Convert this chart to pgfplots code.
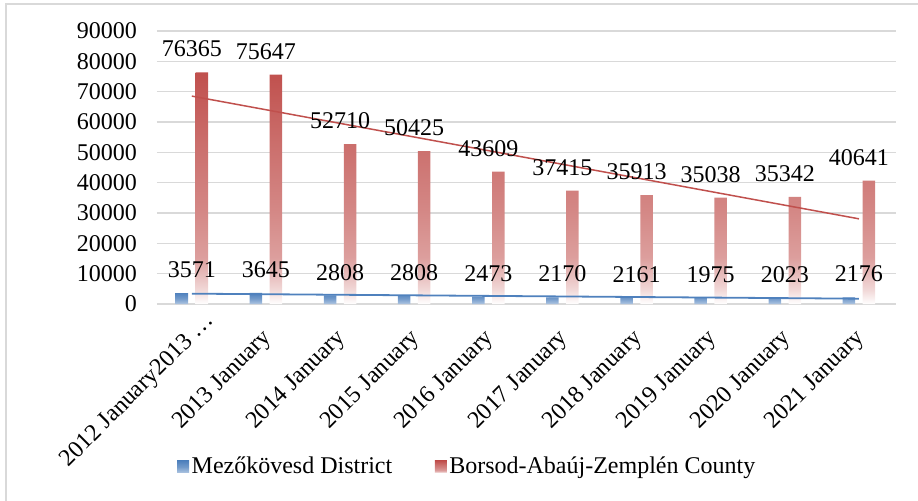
\documentclass[border=0pt]{standalone}
\usepackage{fontspec}
\setmainfont{Liberation Serif}
\usepackage{pgfplots}
\pgfplotsset{compat=1.18}
\definecolor{bred}{HTML}{C0504D}
\definecolor{bblue}{HTML}{4F81BD}
\definecolor{gridgray}{HTML}{D9D9D9}
\newcommand{\cf}{\fontsize{24bp}{28bp}\selectfont}
% bar fills: solid at the top, fading to white at the base
\pgfdeclareverticalshading{redbar}{100bp}{color(0bp)=(white); color(25bp)=(white);
  color(28bp)=(bred!22!white); color(35bp)=(bred!55!white); color(45bp)=(bred!68!white);
  color(60bp)=(bred!83!white); color(75bp)=(bred); color(100bp)=(bred)}
\pgfdeclareverticalshading{bluebar}{100bp}{color(0bp)=(bblue!45!white); color(25bp)=(bblue!45!white);
  color(50bp)=(bblue!80!white); color(75bp)=(bblue); color(100bp)=(bblue)}

\begin{document}
\cf
\begin{tikzpicture}
\begin{axis}[
    scale only axis,
    width=739bp, height=273bp,
    xmin=-0.47, xmax=9.5,
    ymin=0, ymax=90000,
    ytick={0,10000,...,90000},
    scaled y ticks=false,
    xtick={0,...,9},
    xticklabels={2012 January2013 …\kern-24bp, 2013 January, 2014 January,
        2015 January, 2016 January, 2017 January, 2018 January, 2019 January,
        2020 January, 2021 January},
    axis line style={draw=none},
    major tick length=0pt,
    ymajorgrids,
    grid style={gridgray, line width=1.5bp},
    tick label style={font=\cf},
    yticklabel style={xshift=-12bp},
    xticklabel style={xshift=8bp, yshift=-25bp, rotate=45, anchor=east},
    /pgf/number format/1000 sep={},
    /pgf/number format/assume math mode=true,
    legend style={draw=none, font=\cf, at={(0.023,-0.597)}, anchor=west,
        legend columns=2, nodes={inner sep=2.5bp},
        /tikz/every even column/.append style={column sep=40bp}},
    legend image code/.code={\path[#1] (0bp,-6bp) rectangle (12bp,6bp);},
]
\addplot[ybar, bar width=12.5bp, bar shift=-10bp, draw=none, shade, shading=bluebar,
    nodes near coords, every node near coord/.append style={font=\cf, black, yshift=7bp}]
    coordinates {(0,3571) (1,3645) (2,2808) (3,2808) (4,2473) (5,2170) (6,2161) (7,1975) (8,2023) (9,2176)};
\addplot[ybar, bar width=12.5bp, bar shift=10bp, draw=none, shade, shading=redbar,
    nodes near coords, every node near coord/.append style={font=\cf, black, yshift=7bp}]
    coordinates {(0,76365) (1,75647) (2,52710) (3,50425) (4,43609) (5,37415) (6,35913) (7,35038) (8,35342) (9,40641)};
% linear trend lines
\addplot[sharp plot, no marks, bblue, line width=1.8bp, forget plot]
    coordinates {(0,3408) (9,1754)};
\addplot[sharp plot, no marks, bred, line width=1.5bp, forget plot]
    coordinates {(0,68540) (9,28081)};
\legend{Mezőkövesd District, Borsod-Abaúj-Zemplén County}
\end{axis}
\draw[gridgray, line width=1.5bp] (-151bp,-197bp) -- (-151bp,300bp) -- (761bp,300bp);
\pgfresetboundingbox
\path[use as bounding box] (-157bp,-197bp) rectangle (761bp,304bp);
\end{tikzpicture}
\end{document}
